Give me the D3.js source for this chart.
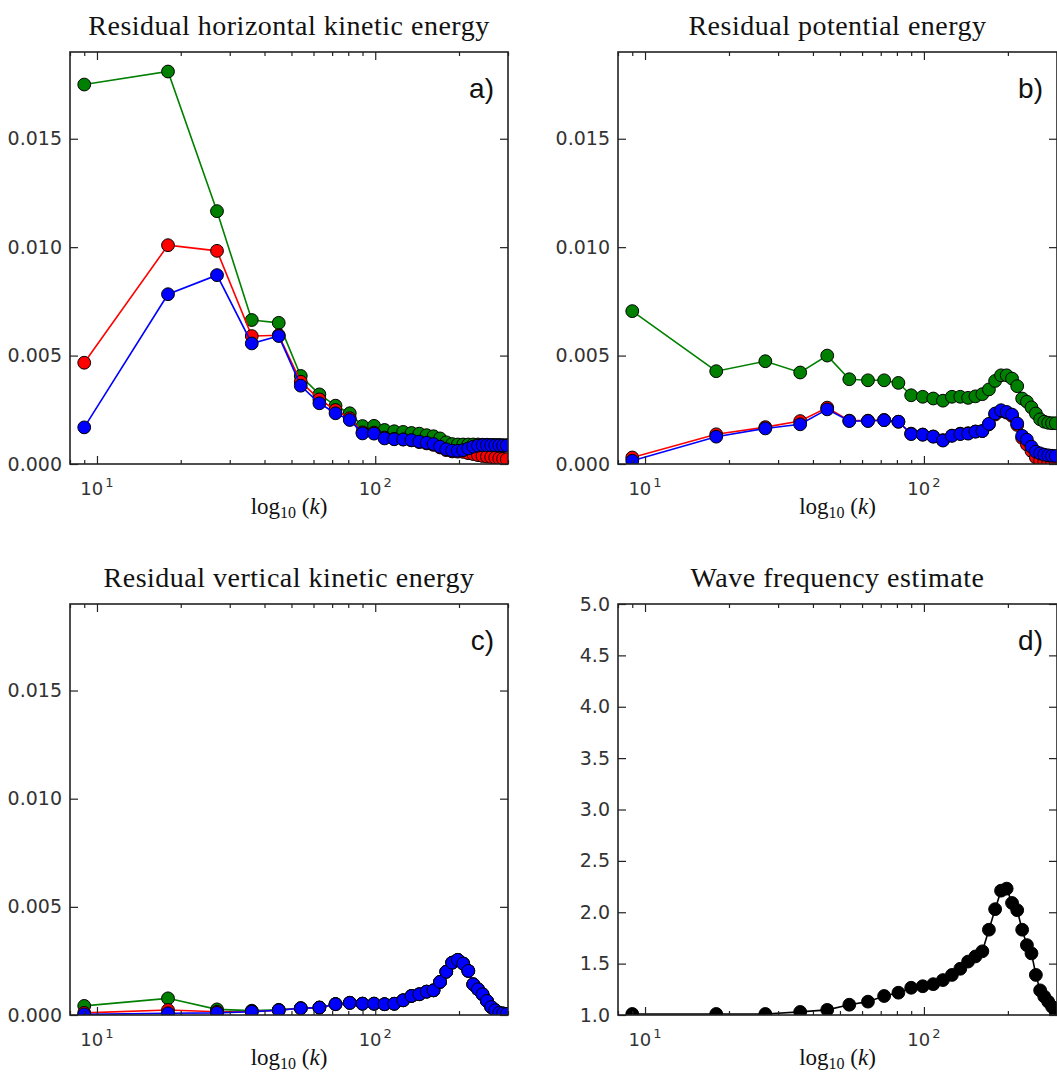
<!DOCTYPE html>
<html lang="en">
<head>
<meta charset="UTF-8">
<title>Residual energies</title>
<script src="https://d3js.org/d3.v7.min.js"></script>
<style>
    body { margin: 0; background: #fff; }
    .tick text { font-family: "DejaVu Sans", sans-serif; font-size: 19px; fill: #333; }
    .tick line { stroke: #222; stroke-width: 1.2; }
    .title { font-family: "Liberation Serif", serif; font-size: 28px; letter-spacing: 0.5px; fill: #111; }
    .xlabel { font-family: "Liberation Serif", serif; font-size: 23px; fill: #111; }
    .panel-tag { font-family: "Liberation Sans", sans-serif; font-size: 28px; fill: #111; }
    .xtick { font-family: "DejaVu Sans", sans-serif; fill: #333; }
</style>
</head>
<body>
<svg id="chart"></svg>
<script>
    // wavenumbers k (x axis, log scale)
    const kValues = [9, 18, 27, 36, 45, 54, 63, 72, 81, 90, 99, 108, 117, 126, 135, 144, 153,
        162, 171, 180, 189, 198, 207, 216, 225, 234, 243, 252, 261, 270, 279, 288, 297];
    const kDomain = [8, 300];

    // a) residual horizontal kinetic energy
    const hkeGreen = [0.0175, 0.0181, 0.01166, 0.00664, 0.00651, 0.00406, 0.00321, 0.00269, 0.00234,
        0.00175, 0.00176, 0.00157, 0.00151, 0.00148, 0.00143, 0.0014, 0.00133, 0.00128, 0.00118, 0.001,
        0.00092, 0.0009, 0.0009, 0.0009, 0.0009, 0.0009, 0.00089, 0.00089, 0.00088, 0.00088, 0.00088,
        0.00087, 0.00087];
    const hkeRed = [0.00467, 0.01009, 0.00983, 0.0059, 0.00594, 0.00379, 0.00298, 0.00249, 0.00211,
        0.00146, 0.00145, 0.00122, 0.00116, 0.00113, 0.00109, 0.00101, 0.00095, 0.00088, 0.00076, 0.00064,
        0.00058, 0.00057, 0.00056, 0.0005, 0.00046, 0.00041, 0.00037, 0.00034, 0.00032, 0.00029, 0.00026,
        0.00024, 0.00022];
    const hkeBlue = [0.00169, 0.00783, 0.00871, 0.00556, 0.0059, 0.00361, 0.0028, 0.00234, 0.00203,
        0.00141, 0.0014, 0.00118, 0.00114, 0.00113, 0.0011, 0.00103, 0.00098, 0.00092, 0.0008, 0.00068,
        0.00062, 0.00061, 0.00064, 0.00072, 0.0008, 0.00085, 0.00087, 0.00087, 0.00087, 0.00086, 0.00086,
        0.00085, 0.00085];

    // b) residual potential energy
    const peGreen = [0.00705, 0.00428, 0.00474, 0.00422, 0.005, 0.00391, 0.00386, 0.00386, 0.00374,
        0.00317, 0.0031, 0.00302, 0.00292, 0.0031, 0.0031, 0.00305, 0.00312, 0.00322, 0.00344, 0.00383,
        0.00409, 0.00409, 0.00394, 0.00359, 0.00302, 0.00287, 0.00261, 0.00233, 0.00206, 0.00195, 0.0019,
        0.00188, 0.00188];
    const peRed = [0.0003, 0.00137, 0.0017, 0.00198, 0.0026, 0.002, 0.002, 0.00203, 0.00195,
        0.0014, 0.00136, 0.00127, 0.0011, 0.00131, 0.0014, 0.00142, 0.0015, 0.00152, 0.00183, 0.00228,
        0.00244, 0.00237, 0.00222, 0.0018, 0.0012, 0.0009, 0.0006, 0.0003, 0.00015, 0.0001, 0.00005,
        0.00004, 0.00003];
    const peBlue = [0.00015, 0.00126, 0.00164, 0.00183, 0.00252, 0.00198, 0.00198, 0.00202, 0.00195,
        0.00138, 0.00135, 0.00126, 0.00108, 0.0013, 0.00138, 0.0014, 0.00149, 0.00152, 0.00185, 0.00233,
        0.00248, 0.0024, 0.00228, 0.00187, 0.0013, 0.00112, 0.0008, 0.00057, 0.00049, 0.00043, 0.0004,
        0.00038, 0.00037];

    // c) residual vertical kinetic energy
    const vkeGreen = [0.00042, 0.00077, 0.00026, 0.0002, 0.00024, 0.00032, 0.00035, 0.00051, 0.00057,
        0.00053, 0.00053, 0.0005, 0.00052, 0.00068, 0.00088, 0.00096, 0.00108, 0.00114, 0.00153, 0.002,
        0.00242, 0.00255, 0.00238, 0.00204, 0.00142, 0.00119, 0.00096, 0.00065, 0.00037, 0.00022, 0.0001,
        0.00007, 0.00005];
    const vkeRed = [0.0001, 0.00023, 0.00015, 0.00016, 0.00022, 0.00031, 0.00034, 0.0005, 0.00056,
        0.00052, 0.00052, 0.0005, 0.00052, 0.00068, 0.00088, 0.00096, 0.00108, 0.00114, 0.00153, 0.002,
        0.00242, 0.00255, 0.00238, 0.00204, 0.00142, 0.00119, 0.00096, 0.00065, 0.00037, 0.00022, 0.0001,
        0.00007, 0.00005];
    const vkeBlue = [0.00003, 0.00008, 0.0001, 0.00015, 0.00022, 0.00031, 0.00034, 0.0005, 0.00056,
        0.00052, 0.00052, 0.0005, 0.00052, 0.00068, 0.00088, 0.00096, 0.00108, 0.00114, 0.00153, 0.002,
        0.00242, 0.00255, 0.00238, 0.00204, 0.00142, 0.00119, 0.00096, 0.00065, 0.00037, 0.00022, 0.0001,
        0.00007, 0.00005];

    // d) wave frequency estimate
    const freq = [1.01, 1.01, 1.01, 1.03, 1.05, 1.1, 1.13, 1.185, 1.217, 1.265, 1.28, 1.3, 1.34, 1.39,
        1.45, 1.52, 1.57, 1.62, 1.83, 2.03, 2.21, 2.23, 2.09, 2.02, 1.83, 1.68, 1.6, 1.39, 1.24, 1.18,
        1.13, 1.08, 1.03];

    const energyTicks = [0, 0.005, 0.010, 0.015];
    const freqTicks = [1.0, 1.5, 2.0, 2.5, 3.0, 3.5, 4.0, 4.5, 5.0];

    const svg = d3.select("#chart")
        .attr("width", 1057)
        .attr("height", 1072)
        .style("background", "#fff");
    const defs = svg.append("defs");

    const panels = [
        {tag: "a", title: "Residual horizontal kinetic energy", left: 70, top: 52, right: 508, bottom: 464,
            yDomain: [0, 0.019], yTicks: energyTicks, fmt: d3.format(".3f"),
            series: [{v: hkeGreen, c: "#008000"}, {v: hkeRed, c: "#ff0000"}, {v: hkeBlue, c: "#0000ff"}]},
        {tag: "b", title: "Residual potential energy", left: 618, top: 52, right: 1057, bottom: 464,
            yDomain: [0, 0.019], yTicks: energyTicks, fmt: d3.format(".3f"),
            series: [{v: peGreen, c: "#008000"}, {v: peRed, c: "#ff0000"}, {v: peBlue, c: "#0000ff"}]},
        {tag: "c", title: "Residual vertical kinetic energy", left: 70, top: 604, right: 508, bottom: 1015,
            yDomain: [0, 0.019], yTicks: energyTicks, fmt: d3.format(".3f"),
            series: [{v: vkeGreen, c: "#008000"}, {v: vkeRed, c: "#ff0000"}, {v: vkeBlue, c: "#0000ff"}]},
        {tag: "d", title: "Wave frequency estimate", left: 618, top: 604, right: 1057, bottom: 1015,
            yDomain: [1, 5], yTicks: freqTicks, fmt: d3.format(".1f"),
            series: [{v: freq, c: "#000000"}]}
    ];

    function drawPanel(p) {
        const w = p.right - p.left, h = p.bottom - p.top;
        const g = svg.append("g").attr("transform", `translate(${p.left},${p.top})`);

        const x = d3.scaleLog().domain(kDomain).range([0, w]);
        const y = d3.scaleLinear().domain(p.yDomain).range([h, 0]);

        defs.append("clipPath").attr("id", "clip-" + p.tag)
            .append("rect").attr("width", w).attr("height", h);

        const plot = g.append("g").attr("clip-path", `url(#clip-${p.tag})`);
        const line = d3.line().x(d => x(d[0])).y(d => y(d[1]));

        p.series.forEach(s => {
            const pts = kValues.map((k, i) => [k, s.v[i]]);
            plot.append("path").datum(pts)
                .attr("fill", "none")
                .attr("stroke", s.c)
                .attr("stroke-width", 1.6)
                .attr("d", line);
            plot.append("g").selectAll("circle").data(pts).join("circle")
                .attr("cx", d => x(d[0]))
                .attr("cy", d => y(d[1]))
                .attr("r", 6.4)
                .attr("fill", s.c)
                .attr("stroke", "#000")
                .attr("stroke-width", 1);
        });

        // log ticks: decades are major, the rest minor
        const allX = x.ticks();
        const majors = allX.filter(t => Math.abs(Math.log10(t) - Math.round(Math.log10(t))) < 1e-9);
        const minors = allX.filter(t => !majors.includes(t));

        const axes = [
            [d3.axisBottom(x).tickValues(majors).tickSize(-8), `translate(0,${h})`],
            [d3.axisBottom(x).tickValues(minors).tickSize(-4), `translate(0,${h})`],
            [d3.axisTop(x).tickValues(majors).tickSize(-8), null],
            [d3.axisTop(x).tickValues(minors).tickSize(-4), null],
            [d3.axisRight(y).tickValues(p.yTicks).tickSize(-8), `translate(${w},0)`]
        ];
        axes.forEach(([ax, tr]) => {
            const a = g.append("g").call(ax.tickFormat(""));
            if (tr) a.attr("transform", tr);
            a.select(".domain").remove();
        });

        const yAx = g.append("g")
            .call(d3.axisLeft(y).tickValues(p.yTicks).tickSize(-8).tickPadding(8).tickFormat(p.fmt));
        yAx.select(".domain").remove();

        // 10^n labels under the decade ticks
        const xl = g.selectAll(".xtick").data(majors).join("text")
            .attr("class", "xtick")
            .attr("x", d => x(d))
            .attr("y", h + 31)
            .attr("text-anchor", "middle");
        xl.append("tspan").attr("font-size", 18).text("10");
        xl.append("tspan").attr("font-size", 13).attr("dy", -8).attr("dx", 2)
            .text(d => Math.round(Math.log10(d)));

        // frame
        g.append("rect")
            .attr("width", w).attr("height", h)
            .attr("fill", "none")
            .attr("stroke", "#222")
            .attr("stroke-width", 1.6);

        g.append("text").attr("class", "title")
            .attr("x", w / 2).attr("y", -17)
            .attr("text-anchor", "middle")
            .text(p.title);

        const lab = g.append("text").attr("class", "xlabel")
            .attr("x", w / 2).attr("y", h + 50)
            .attr("text-anchor", "middle");
        lab.append("tspan").text("log");
        lab.append("tspan").attr("font-size", 16).attr("dy", 4).text("10");
        lab.append("tspan").attr("dy", -4).text(" (");
        lab.append("tspan").attr("font-style", "italic").text("k");
        lab.append("tspan").text(")");

        g.append("text").attr("class", "panel-tag")
            .attr("x", w - 14).attr("y", 46)
            .attr("text-anchor", "end")
            .text(p.tag + ")");
    }

    panels.forEach(drawPanel);
</script>
</body>
</html>
